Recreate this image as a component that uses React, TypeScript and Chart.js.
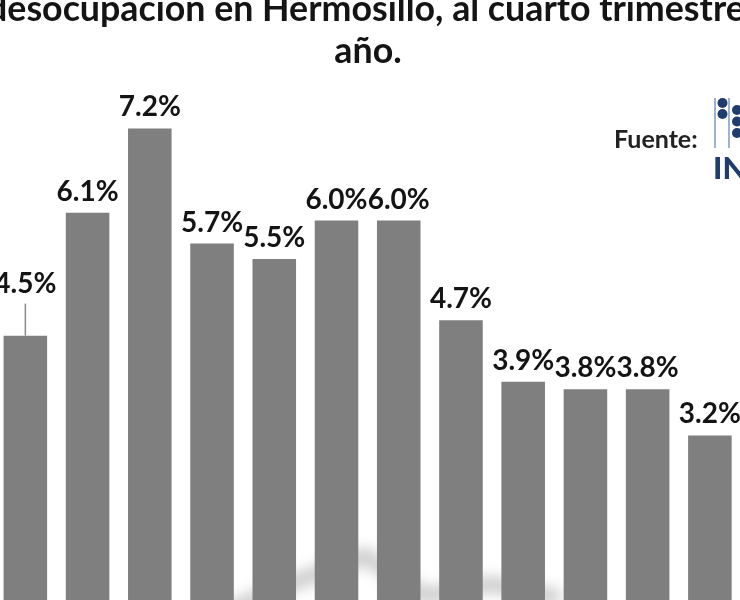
import React, { useEffect, useRef } from "react";
import { Chart, registerables } from "chart.js";

Chart.register(...registerables);

// ---- data ----
const years = ["2006", "2007", "2008", "2009", "2010", "2011", "2012", "2013", "2014", "2015", "2016", "2017", "2018"];
const rates = [2.9, 4.5, 6.1, 7.2, 5.7, 5.5, 6.0, 6.0, 4.7, 3.9, 3.8, 3.8, 3.2];
const titleLines = ["Tasa de desocupación en Hermosillo, al cuarto trimestre de cada", "año."];
const sourceLabel = "Fuente:";
const logoText = "INEGI";

// ---- layout (page offset of the canvas, styles) ----
const OX = 68; // canvas x = page x + OX
const CANVAS_W = 876;
const CANVAS_H = 700;
const FONT = "Lato, 'Open Sans', sans-serif";
const BAR_COLOR = "#7f7f7f";
const TEXT_COLOR = "#141414";
const NAVY = "#1f3c6c";

const titlePlugin = {
  id: "titleAndLogo",
  beforeDatasetsDraw(chart: any) {
    const ctx = chart.ctx;
    // faint shadow artifact behind bars
    ctx.save();
    ctx.filter = "blur(7px)";
    ctx.strokeStyle = "rgba(0,0,0,0.2)";
    ctx.lineWidth = 16;
    ctx.beginPath();
    const pts = [[225, 612], [300, 580], [365, 556], [425, 596], [490, 584], [560, 598]];
    pts.forEach(([x, y], i) => (i === 0 ? ctx.moveTo(x + OX, y) : ctx.lineTo(x + OX, y)));
    ctx.stroke();
    ctx.restore();
  },
  afterDraw(chart: any) {
    const ctx = chart.ctx;
    ctx.save();
    ctx.fillStyle = TEXT_COLOR;
    ctx.font = `bold 100px ${FONT}`;
    const w = ctx.measureText("desocupación en Hermosillo, al cuarto trimestre").width;
    const size = (100 * 758) / w;
    ctx.font = `bold ${size}px ${FONT}`;
    const pre = ctx.measureText("Tasa de ").width;
    ctx.textBaseline = "alphabetic";
    ctx.textAlign = "left";
    ctx.fillText(titleLines[0], OX - 13 - pre, 21);
    ctx.textAlign = "center";
    ctx.fillText(titleLines[1], OX + 368, 63);

    // source
    ctx.font = `bold 25px ${FONT}`;
    ctx.fillStyle = "#222";
    ctx.textAlign = "left";
    ctx.fillText(sourceLabel, OX + 614, 148);

    // logo
    ctx.strokeStyle = "#7d9cbb";
    ctx.lineWidth = 1.5;
    [715, 729].forEach((x) => {
      ctx.beginPath();
      ctx.moveTo(OX + x, 98);
      ctx.lineTo(OX + x, 148);
      ctx.stroke();
    });
    ctx.fillStyle = NAVY;
    [[722.5, 103], [722.5, 114], [737, 110], [737, 121.5], [737, 133]].forEach(([x, y]) => {
      ctx.beginPath();
      ctx.arc(OX + x, y, 5, 0, Math.PI * 2);
      ctx.fill();
    });
    ctx.font = `900 31px ${FONT}`;
    ctx.fillText(logoText, OX + 713, 179);
    ctx.restore();
  },
};

const labelPlugin = {
  id: "barLabels",
  afterDatasetsDraw(chart: any, _args: any, opts: any) {
    const ctx = chart.ctx;
    const meta = chart.getDatasetMeta(0);
    const lifts = opts.lifts || {};
    ctx.save();
    ctx.font = `bold 28px ${FONT}`;
    ctx.fillStyle = TEXT_COLOR;
    ctx.textAlign = "center";
    ctx.textBaseline = "alphabetic";
    meta.data.forEach((bar: any, i: number) => {
      const lift = lifts[years[i]] || 0;
      const base = bar.y - 12 - lift;
      ctx.fillText(rates[i].toFixed(1) + "%", bar.x, base);
      if (lift) {
        ctx.strokeStyle = "#8a8a8a";
        ctx.lineWidth = 1.5;
        ctx.beginPath();
        ctx.moveTo(bar.x, base + 11);
        ctx.lineTo(bar.x, bar.y);
        ctx.stroke();
      }
    });
    ctx.restore();
  },
};

export default function App() {
  const ref = useRef<HTMLCanvasElement>(null);
  useEffect(() => {
    if (!ref.current) return;
    const chart = new Chart(ref.current, {
      type: "bar",
      data: {
        labels: years,
        datasets: [
          {
            data: rates,
            backgroundColor: BAR_COLOR,
            borderWidth: 0,
            categoryPercentage: 1,
            barPercentage: 0.7,
          },
        ],
      },
      options: {
        responsive: false,
        animation: false,
        devicePixelRatio: 1,
        layout: { padding: { left: 0, right: 67, top: 67, bottom: 19 } },
        plugins: {
          legend: { display: false },
          title: { display: false },
          tooltip: { enabled: false },
          barLabels: { lifts: { "2007": 31 } },
        } as any,
        scales: {
          x: { display: false, grid: { display: false } },
          y: { display: false, min: 0, max: 8, grid: { display: false } },
        },
      },
      plugins: [titlePlugin, labelPlugin],
    });
    return () => chart.destroy();
  }, []);
  return (
    <div
      style={{
        position: "fixed",
        left: 0,
        top: 0,
        width: 740,
        height: 600,
        overflow: "hidden",
        background: "#fff",
      }}
    >
      <canvas
        ref={ref}
        width={CANVAS_W}
        height={CANVAS_H}
        style={{ position: "absolute", left: -OX, top: 0, width: CANVAS_W, height: CANVAS_H }}
      />
    </div>
  );
}
